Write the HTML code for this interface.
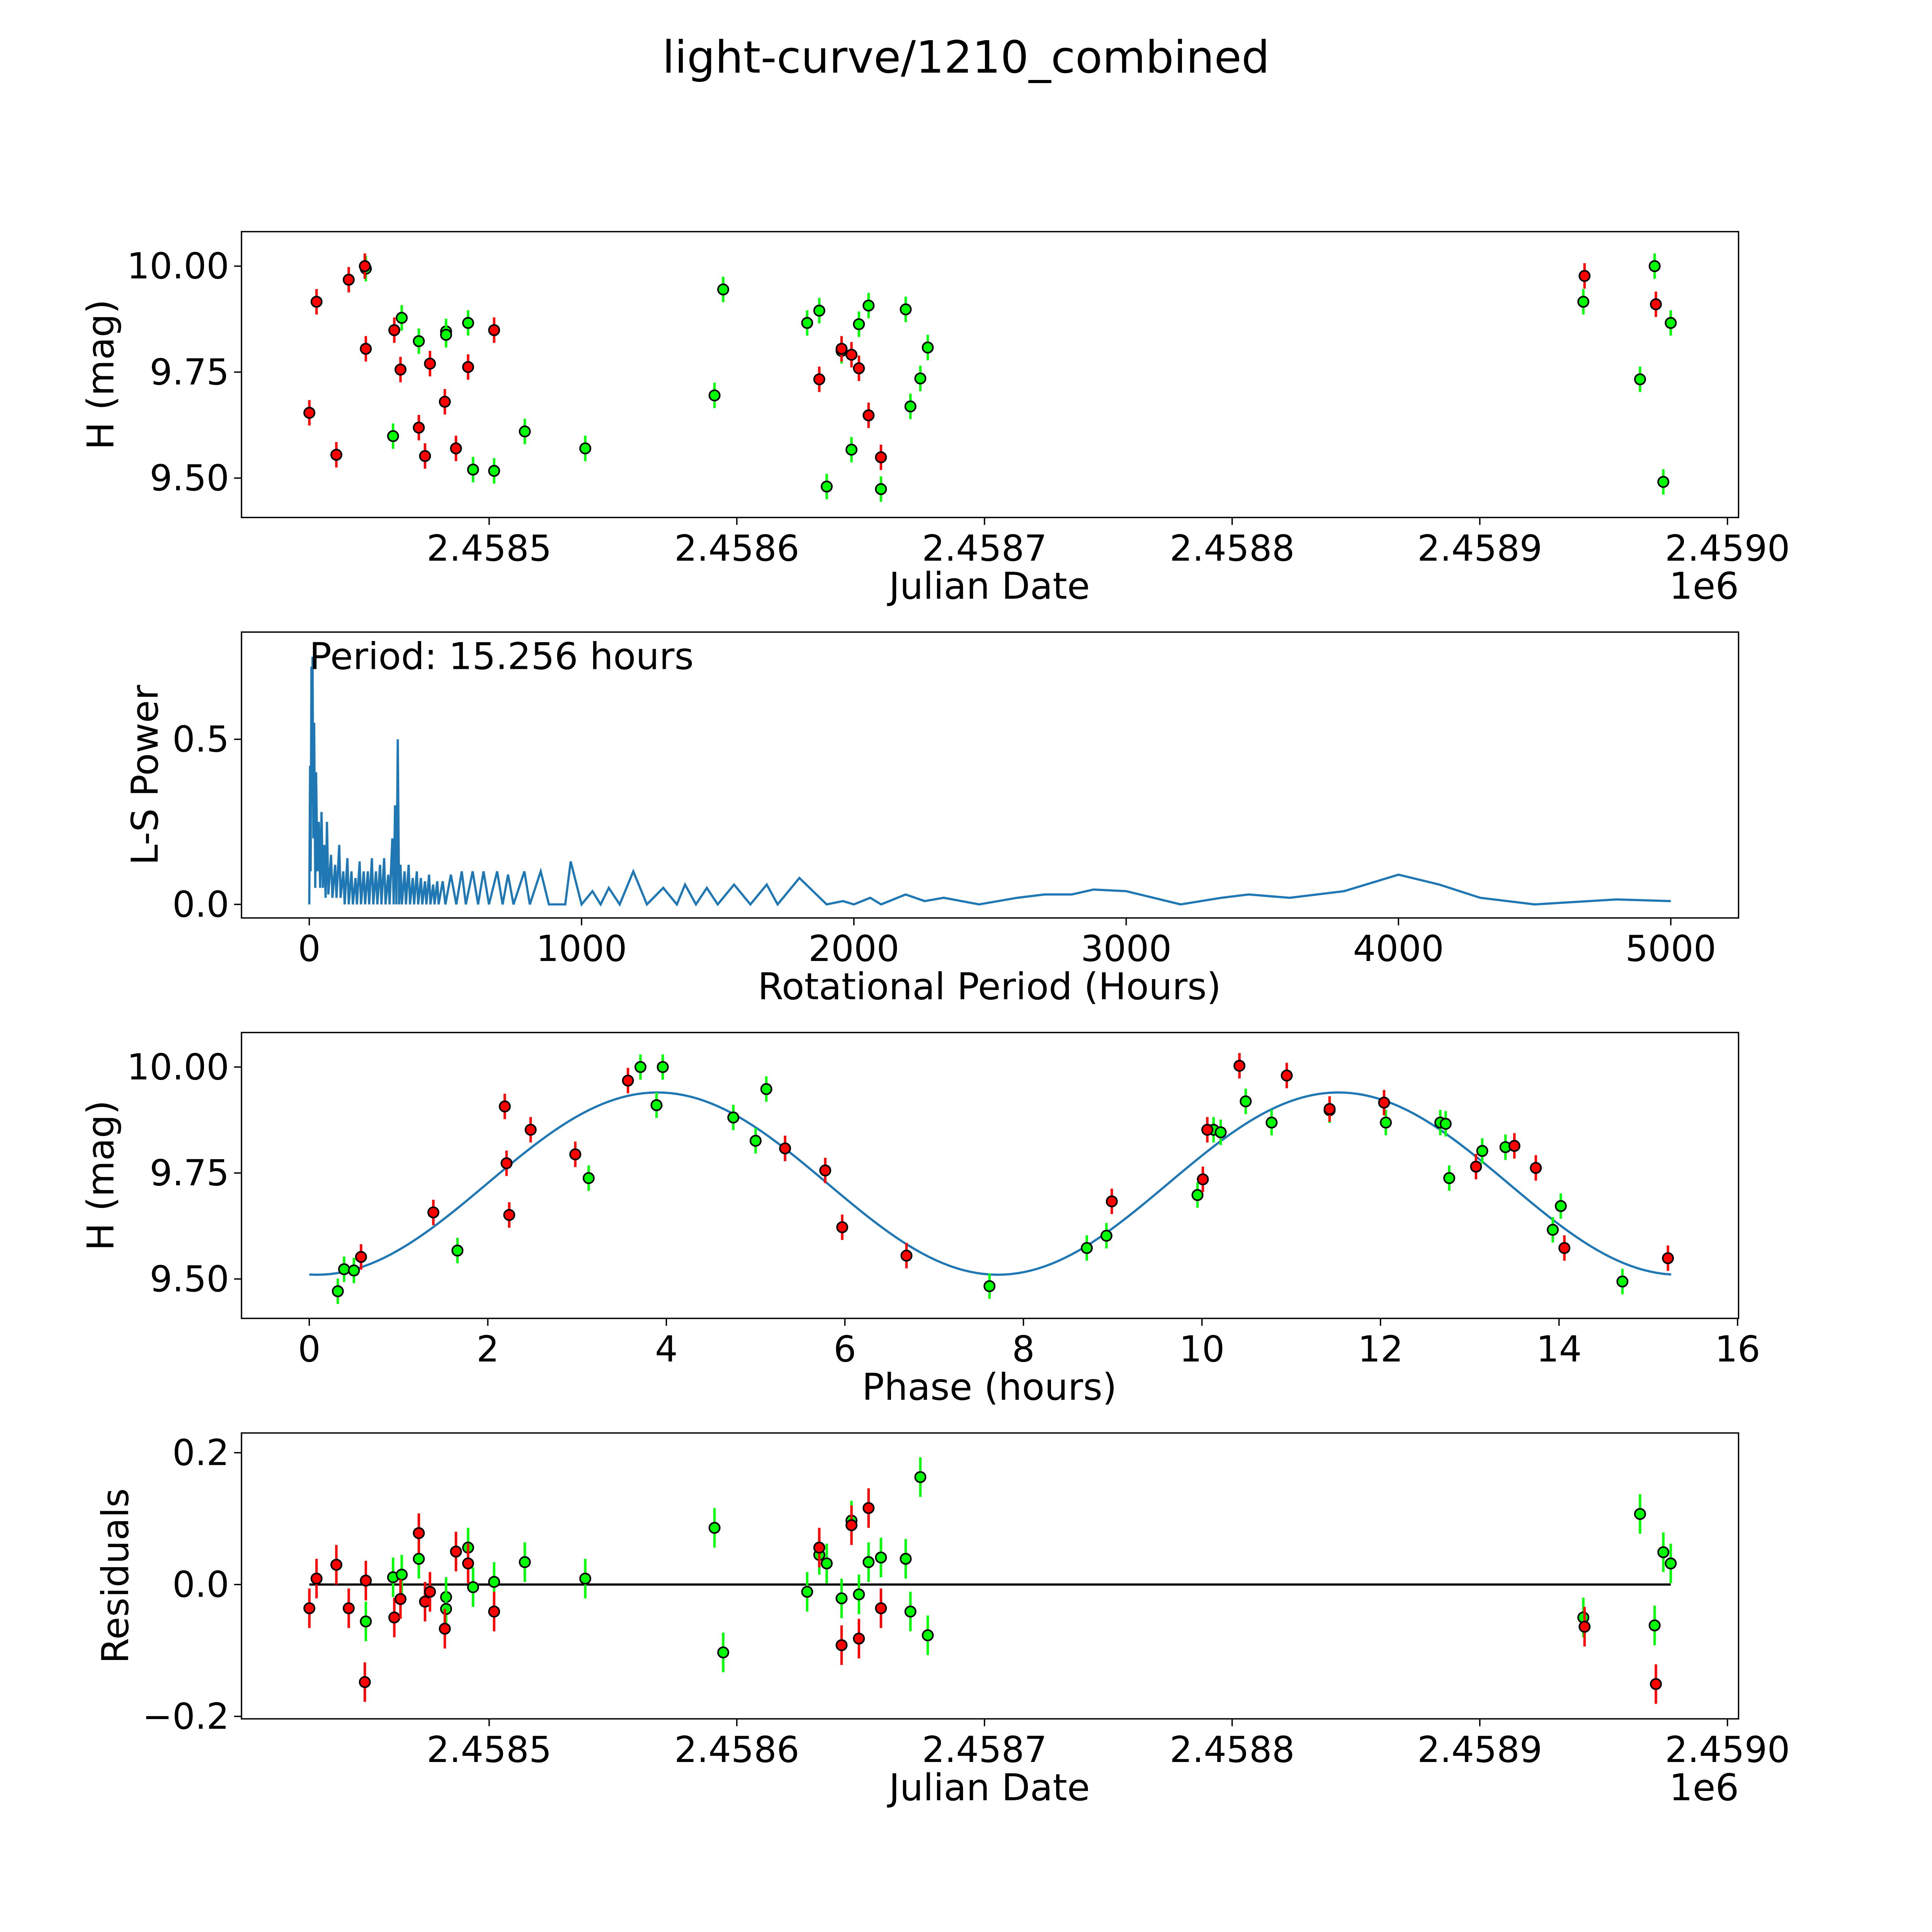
<!DOCTYPE html>
<html><head><meta charset="utf-8"><style>
html,body{margin:0;padding:0;background:#fff;overflow:hidden;width:100vw;height:100vh}
svg{display:block;width:100vw;height:100vh}
text{font-family:"DejaVu Sans","Liberation Sans",sans-serif;fill:#000}
</style></head><body>
<svg id="fig" xmlns="http://www.w3.org/2000/svg" viewBox="0 0 1568 1568" preserveAspectRatio="none">
<rect width="1568" height="1568" fill="#fff"/>
<text x="784" y="59" font-size="36" text-anchor="middle">light-curve/1210_combined</text>
</svg>
<script>
// ---- data (JD offsets = days since 2458400) ----
const redJD=[27.4,30.3,38.3,43.3,49.8,50.2,61.7,64.2,71.6,74.1,76.1,82.1,86.6,91.5,102.0,233.3,242.3,246.3,249.3,253.2,258.2,542.3,571.1];
const redH=[9.654,9.916,9.555,9.968,10.0,9.805,9.849,9.756,9.619,9.552,9.770,9.680,9.570,9.762,9.849,9.733,9.805,9.791,9.759,9.648,9.549,9.977,9.910];
const greenJD=[50.2,61.2,64.7,71.6,82.6,82.6,91.5,93.5,102.0,114.4,138.8,191.0,194.5,228.4,233.3,236.3,242.3,246.3,249.3,253.2,258.2,268.2,270.1,274.1,277.1,541.8,564.7,570.6,574.1,577.1];
const greenH=[9.994,9.599,9.878,9.823,9.846,9.838,9.866,9.520,9.517,9.610,9.570,9.695,9.945,9.866,9.895,9.480,9.800,9.567,9.863,9.907,9.474,9.898,9.669,9.735,9.808,9.916,9.733,10.0,9.491,9.866];
const redRes=[-0.036,0.009,0.030,-0.036,-0.148,0.006,-0.050,-0.022,0.078,-0.026,-0.011,-0.067,0.050,0.032,-0.041,0.056,-0.092,0.090,-0.082,0.116,-0.036,-0.064,-0.151];
const greenRes=[-0.056,0.011,0.015,0.039,-0.019,-0.037,0.056,-0.004,0.004,0.034,0.009,0.086,-0.103,-0.011,0.045,0.032,-0.021,0.097,-0.015,0.034,0.041,0.039,-0.041,0.163,-0.077,-0.050,0.107,-0.062,0.049,0.032];
const redPhase=[0.58,1.39,2.19,2.21,2.24,2.48,2.98,3.57,5.33,5.78,5.97,6.69,8.99,10.01,10.06,10.42,10.95,11.43,12.04,13.07,13.50,13.74,14.06,15.22];
const redPhaseH=[9.552,9.657,9.907,9.773,9.651,9.852,9.794,9.968,9.808,9.756,9.622,9.555,9.683,9.735,9.852,10.003,9.980,9.901,9.916,9.765,9.814,9.762,9.573,9.549];
const greenPhase=[0.32,0.39,0.50,1.66,3.13,3.71,3.89,3.96,4.75,5.0,5.12,7.62,8.71,8.93,9.95,10.13,10.21,10.49,10.78,11.43,12.06,12.67,12.73,12.77,13.14,13.40,13.93,14.02,14.71];
const greenPhaseH=[9.471,9.523,9.520,9.567,9.738,10.0,9.910,10.0,9.881,9.826,9.948,9.483,9.573,9.602,9.698,9.852,9.846,9.919,9.869,9.898,9.869,9.869,9.866,9.738,9.802,9.811,9.616,9.672,9.494];
const lsPeriod=[0,3,5,8,10,12,15,18,22,25,30,35,40,45,50,55,60,65,70,80,85,95,100,110,115,125,130,140,145,155,160,170,175,185,190,200,205,215,220,230,235,245,250,260,265,275,280,290,295,305,310,315,320,325,330,335,340,350,355,365,370,380,385,395,400,410,415,425,430,440,445,455,460,470,475,490,500,520,540,560,575,600,620,640,660,690,710,730,750,790,810,850,880,940,960,1000,1040,1070,1100,1140,1190,1240,1300,1350,1380,1420,1460,1500,1560,1620,1680,1720,1800,1900,1960,2000,2060,2100,2190,2260,2330,2460,2600,2700,2800,2880,3000,3100,3200,3350,3450,3600,3800,4000,4150,4300,4500,4800,5000];
const lsPower=[0,0.42,0.1,0.72,0.3,0.75,0.2,0.55,0.05,0.4,0.1,0.25,0.05,0.28,0.05,0.18,0.02,0.25,0.03,0.15,0.02,0.12,0.02,0.18,0.02,0.1,0,0.14,0,0.1,0,0.08,0,0.13,0,0.1,0,0.1,0,0.14,0,0.1,0,0.12,0,0.14,0,0.09,0,0.2,0,0.3,0,0.5,0,0.12,0,0.1,0,0.12,0,0.08,0,0.1,0,0.08,0,0.07,0,0.09,0,0.06,0,0.07,0,0.07,0,0.09,0,0.1,0,0.1,0,0.1,0,0.1,0,0.09,0,0.1,0,0.1,0,0,0.13,0,0.04,0,0.05,0,0.1,0,0.05,0,0.06,0,0.05,0,0.06,0,0.06,0,0.08,0,0.01,0,0.02,0,0.03,0.01,0.02,0,0.02,0.03,0.03,0.045,0.04,0.02,0,0.02,0.03,0.02,0.04,0.09,0.06,0.02,0,0.015,0.01];
const jdTicks=[100,200,300,400,500,600];
const jdTickLabels=["2.4585","2.4586","2.4587","2.4588","2.4589","2.4590"];
const hTicks=[9.5,9.75,10.0];
const hTickLabels=["9.50","9.75","10.00"];
const lsXTicks=[0,1000,2000,3000,4000,5000];
const lsYTicks=[0,0.5];
const lsYTickLabels=["0.0","0.5"];
const phTicks=[0,2,4,6,8,10,12,14,16];
const resTicks=[-0.2,0,0.2];
const resTickLabels=["\u22120.2","0.0","0.2"];
const modelMean=9.725, modelAmp=0.215, modelPeak=3.9, modelPeriod=7.628, phaseMax=15.256;
const ERR=0.03;

const svg=document.getElementById('fig');
const NS='http://www.w3.org/2000/svg';
function mk(tag,attrs,parent){const e=document.createElementNS(NS,tag);for(const k in attrs)e.setAttribute(k,attrs[k]);(parent||svg).appendChild(e);return e;}
const L=196,R=1411;
const jdX=d=>397+(d-100)*2.01;
function hY(top){return h=>top+28+(10-h)*344;}
const P1=188,P2=513,P3=838,P4=1163,PH=232;
const y1=hY(P1), y3=hY(P3);
const lsX=p=>251+p*0.221, lsY=v=>734-v*268;
const phX=p=>251+p*72.45;
const resY=r=>1286-r*535;
const TF=29, AF=30;

function frame(top,name){const g=mk('g',{});
 mk('rect',{x:L,y:top,width:R-L,height:PH,fill:'none',stroke:'#000','stroke-width':1.1},g);return g;}
function xticks(g,top,vals,labels,fx){vals.forEach((v,i)=>{const x=fx(v);mk('line',{x1:x,y1:top+PH,x2:x,y2:top+PH+6,stroke:'#000','stroke-width':1.1},g);
 const t=mk('text',{x:x,y:top+PH+35,'font-size':TF,'text-anchor':'middle'},g);t.textContent=labels[i];
 });}
function yticks(g,vals,labels,fy){vals.forEach((v,i)=>{const y=fy(v);mk('line',{x1:L-6,y1:y,x2:L,y2:y,stroke:'#000','stroke-width':1.1},g);
 const t=mk('text',{x:L-10,y:y+10,'font-size':TF,'text-anchor':'end'},g);t.textContent=labels[i];
 });}
function label(g,txt,x,y,rot,name){const t=mk('text',{x:x,y:y,'font-size':AF,'text-anchor':'middle'},g);if(rot)t.setAttribute('transform',`rotate(-90 ${x} ${y})`);t.textContent=txt;
 }
function points(g,xs,ys,fx,fy,color,name,err){xs.forEach((xv,i)=>{const x=fx(xv),y=fy(ys[i]);
 mk('line',{x1:x,y1:fy(ys[i]-err),x2:x,y2:fy(ys[i]+err),stroke:color,'stroke-width':2},g);
 const c=mk('circle',{cx:x,cy:y,r:4.2,fill:color,stroke:'#000','stroke-width':1.3},g);
 });}

// Panel 1
let g=frame(P1,'light-curve-panel');
xticks(g,P1,jdTicks,jdTickLabels,jdX);yticks(g,hTicks,hTickLabels,y1);
label(g,'Julian Date',803,P1+PH+66,false,'x-axis-title');label(g,'1e6',1383,P1+PH+66,false,'x-offset-label');
label(g,'H (mag)',92,P1+PH/2,true,'y-axis-title');
points(g,greenJD,greenH,jdX,y1,'#00ff00','green-point',ERR);
points(g,redJD,redH,jdX,y1,'#ff0000','red-point',ERR);

// Panel 2
g=frame(P2,'periodogram-panel');
xticks(g,P2,lsXTicks,lsXTicks.map(String),lsX);yticks(g,lsYTicks,lsYTickLabels,lsY);
label(g,'Rotational Period (Hours)',803,P2+PH+66,false,'x-axis-title');label(g,'L-S Power',128,P2+PH/2,true,'y-axis-title');
const pl=mk('polyline',{points:lsPeriod.map((p,i)=>lsX(p)+','+lsY(lsPower[i])).join(' '),fill:'none',stroke:'#1f77b4','stroke-width':1.8},g);

const pt=mk('text',{x:251,y:543,'font-size':30},g);pt.textContent='Period: 15.256 hours';


// Panel 3
g=frame(P3,'phase-panel');
xticks(g,P3,phTicks,phTicks.map(String),phX);yticks(g,hTicks,hTickLabels,y3);
label(g,'Phase (hours)',803,P3+PH+66,false,'x-axis-title');label(g,'H (mag)',92,P3+PH/2,true,'y-axis-title');
const mp=[];for(let i=0;i<=200;i++){const p=phaseMax*i/200;mp.push(phX(p)+','+y3(modelMean+modelAmp*Math.cos(2*Math.PI*(p-modelPeak)/modelPeriod)));}
const ml=mk('polyline',{points:mp.join(' '),fill:'none',stroke:'#1f77b4','stroke-width':1.8},g);

points(g,greenPhase,greenPhaseH,phX,y3,'#00ff00','green-point',ERR);
points(g,redPhase,redPhaseH,phX,y3,'#ff0000','red-point',ERR);

// Panel 4
g=frame(P4,'residuals-panel');
xticks(g,P4,jdTicks,jdTickLabels,jdX);yticks(g,resTicks,resTickLabels,resY);
label(g,'Julian Date',803,P4+PH+66,false,'x-axis-title');label(g,'1e6',1383,P4+PH+66,false,'x-offset-label');
label(g,'Residuals',104,P4+PH/2,true,'y-axis-title');
const zl=mk('line',{x1:jdX(27.4),y1:resY(0),x2:jdX(577.1),y2:resY(0),stroke:'#000','stroke-width':1.8},g);

points(g,greenJD,greenRes,jdX,resY,'#00ff00','green-residual',ERR);
points(g,redJD,redRes,jdX,resY,'#ff0000','red-residual',ERR);
</script>
</body></html>
